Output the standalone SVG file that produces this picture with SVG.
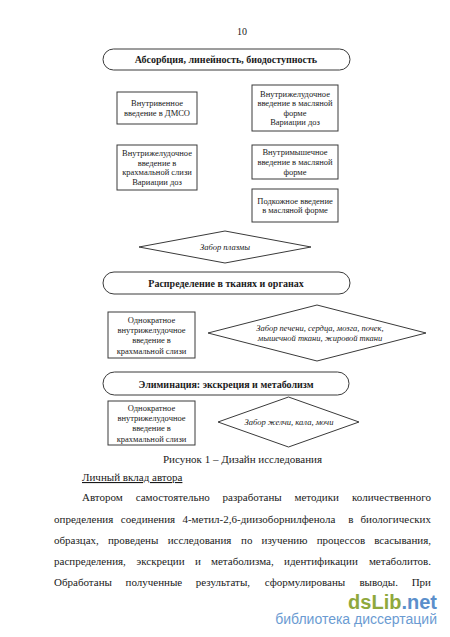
<svg xmlns="http://www.w3.org/2000/svg" width="450" height="637" viewBox="0 0 450 637">
<style>
.bx{fill:#fff;stroke:#3a3a3a;stroke-width:1}
.t{font-family:"Liberation Serif","Times New Roman",serif;fill:#1a1a1a}
.bt{font-size:8.5px;text-anchor:middle}
.pt{font-size:10px;font-weight:bold;text-anchor:middle}
.dt{font-size:8.5px;font-style:italic;text-anchor:middle}
.b{font-size:11px}
.e{text-anchor:end}
</style>
<rect width="450" height="637" fill="#fff"/>
<text class="t" x="242" y="35" font-size="10" text-anchor="middle">10</text>

<g id="pill-absorption">
<rect class="bx" x="103" y="49" width="247" height="21" rx="10.5"/>
<text class="t pt" x="226" y="63">Абсорбция, линейность, биодоступность</text>
</g>
<g id="box-iv">
<rect class="bx" x="117" y="92" width="80" height="32"/>
<text class="t bt" x="157" y="106.2">Внутривенное</text>
<text class="t bt" x="157" y="115.8">введение в ДМСО</text>
</g>
<g id="box-ig-oil">
<rect class="bx" x="252" y="85" width="86" height="46"/>
<text class="t bt" x="295" y="96.6">Внутрижелудочное</text>
<text class="t bt" x="295" y="106.2">введение в масляной</text>
<text class="t bt" x="295" y="115.8">форме</text>
<text class="t bt" x="295" y="125.4">Вариации доз</text>
</g>
<g id="box-ig-starch">
<rect class="bx" x="117" y="145" width="80" height="45"/>
<text class="t bt" x="157" y="156.1">Внутрижелудочное</text>
<text class="t bt" x="157" y="165.7">введение в</text>
<text class="t bt" x="157" y="175.3">крахмальной слизи</text>
<text class="t bt" x="157" y="184.9">Вариации доз</text>
</g>
<g id="box-im">
<rect class="bx" x="252" y="145" width="86" height="34"/>
<text class="t bt" x="295" y="155.4">Внутримышечное</text>
<text class="t bt" x="295" y="165">введение в масляной</text>
<text class="t bt" x="295" y="174.6">форме</text>
</g>
<g id="box-sc">
<rect class="bx" x="252" y="189" width="86" height="33"/>
<text class="t bt" x="295" y="203.7">Подкожное введение</text>
<text class="t bt" x="295" y="213.3">в масляной форме</text>
</g>
<g id="diamond-plasma">
<polygon class="bx" points="139,247 225,231 311,247 225,263"/>
<text class="t dt" x="225" y="250">Забор плазмы</text>
</g>

<g id="pill-distribution">
<rect class="bx" x="103" y="272" width="247" height="22" rx="11"/>
<text class="t pt" x="226" y="286.5">Распределение в тканях и органах</text>
</g>
<g id="box-single-1">
<rect class="bx" x="108" y="312" width="87" height="46"/>
<text class="t bt" x="151.5" y="322.5">Однократное</text>
<text class="t bt" x="151.5" y="332.8">внутрижелудочное</text>
<text class="t bt" x="151.5" y="343.2">введение в</text>
<text class="t bt" x="151.5" y="353.5">крахмальной слизи</text>
</g>
<g id="diamond-tissues">
<polygon class="bx" points="208,333 317,305 426,333 317,361"/>
<text class="t dt" x="320" y="330.5">Забор печени, сердца, мозга, почек,</text>
<text class="t dt" x="320" y="340.5">мышечной ткани, жировой ткани</text>
</g>

<g id="pill-elimination">
<rect class="bx" x="103" y="372" width="246" height="23" rx="11.5"/>
<text class="t pt" x="226" y="387.5">Элиминация: экскреция и метаболизм</text>
</g>
<g id="box-single-2">
<rect class="bx" x="108" y="401" width="87" height="44"/>
<text class="t bt" x="151.5" y="410.5">Однократное</text>
<text class="t bt" x="151.5" y="420.8">внутрижелудочное</text>
<text class="t bt" x="151.5" y="431.2">введение в</text>
<text class="t bt" x="151.5" y="441.5">крахмальной слизи</text>
</g>
<g id="diamond-excreta">
<polygon class="bx" points="218,422 288.5,397 359,422 288.5,447"/>
<text class="t dt" x="289" y="425">Забор желчи, кала, мочи</text>
</g>

<g id="connectors"></g>

<g id="page-text">
<text class="t b" x="242.5" y="463" text-anchor="middle">Рисунок 1 – Дизайн исследования</text>
<text class="t b" x="82" y="481" text-decoration="underline">Личный вклад автора</text>

<text class="t b" x="82" y="500.5">Автором</text>
<text class="t b" x="135.7" y="500.5">самостоятельно</text>
<text class="t b" x="222.6" y="500.5">разработаны</text>
<text class="t b" x="294.5" y="500.5">методики</text>
<text class="t b e" x="431" y="500.5">количественного</text>

<text class="t b" x="54" y="522.5">определения</text>
<text class="t b" x="120.8" y="522.5">соединения</text>
<text class="t b" x="182.4" y="522.5">4-метил-2,6-диизоборнилфенола</text>
<text class="t b" x="348.2" y="522.5">в</text>
<text class="t b e" x="431" y="522.5">биологических</text>

<text class="t b" x="54" y="543.5">образцах,</text>
<text class="t b" x="107.9" y="543.5">проведены</text>
<text class="t b" x="167.7" y="543.5">исследования</text>
<text class="t b" x="241" y="543.5">по</text>
<text class="t b" x="261.5" y="543.5">изучению</text>
<text class="t b" x="316.7" y="543.5">процессов</text>
<text class="t b e" x="431" y="543.5">всасывания,</text>

<text class="t b" x="54" y="564.5">распределения,</text>
<text class="t b" x="136.5" y="564.5">экскреции</text>
<text class="t b" x="194.9" y="564.5">и</text>
<text class="t b" x="211" y="564.5">метаболизма,</text>
<text class="t b" x="284.1" y="564.5">идентификации</text>
<text class="t b e" x="431" y="564.5">метаболитов.</text>

<text class="t b" x="54" y="585.5">Обработаны</text>
<text class="t b" x="125.5" y="585.5">полученные</text>
<text class="t b" x="195.8" y="585.5">результаты,</text>
<text class="t b" x="264.7" y="585.5">сформулированы</text>
<text class="t b" x="359.4" y="585.5">выводы.</text>
<text class="t b e" x="431" y="585.5">При</text>
</g>

<g id="logo">
<text x="437" y="609" text-anchor="end" font-family="'Liberation Sans',Arial,sans-serif" font-size="20" font-weight="bold"><tspan fill="#8fa83c">dsLib</tspan><tspan fill="#5b8fcb">.net</tspan></text>
<text x="437" y="624" text-anchor="end" font-family="'Liberation Sans',Arial,sans-serif" font-size="14" fill="#6b9bd2">библиотека диссертаций</text>
</g>
</svg>
